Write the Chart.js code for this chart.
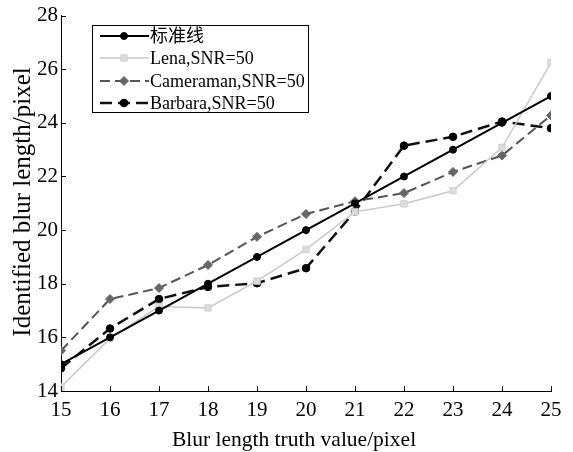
<!DOCTYPE html>
<html>
<head>
<meta charset="utf-8">
<script src="https://cdn.jsdelivr.net/npm/chart.js@4.4.1/dist/chart.umd.min.js"></script>
<style>
  html, body { margin: 0; padding: 0; background: #fff; }
  #wrap { width: 573px; height: 452px; }
</style>
</head>
<body>
<div id="wrap"><canvas id="chart" width="573" height="452"></canvas></div>
<script>
// данные с графика
const truthValues = [15, 16, 17, 18, 19, 20, 21, 22, 23, 24, 25];
const standardLine = [15, 16, 17, 18, 19, 20, 21, 22, 23, 24, 25];
const lenaValues = [14.15, 15.96, 17.15, 17.1, 18.1, 19.28, 20.68, 20.98, 21.47, 23.08, 26.25];
const cameramanValues = [15.5, 17.43, 17.84, 18.7, 19.75, 20.6, 21.08, 21.38, 22.17, 22.78, 24.28];
const barbaraValues = [14.85, 16.33, 17.43, 17.88, 18.02, 18.58, 20.7, 23.15, 23.48, 24.05, 23.8];
const seriesNames = ['标准线', 'Lena,SNR=50', 'Cameraman,SNR=50', 'Barbara,SNR=50'];
const yTicks = [14, 16, 18, 20, 22, 24, 26, 28];
const xTitle = 'Blur length truth value/pixel';
const yTitle = 'Identified blur length/pixel';

const serif = '"Liberation Serif", "Times New Roman", "Noto Sans CJK SC", serif';

function toPoints(values) {
    return truthValues.map((x, i) => ({ x: x, y: values[i] }));
}

// рамка легенды внутри графика
const legendBox = {
    id: 'legendBox',
    afterDraw(chart) {
        const ctx = chart.ctx;
        const x0 = 92, y0 = 25, w = 216, h = 87, rowH = 22.3;
        ctx.save();
        ctx.fillStyle = '#fff';
        ctx.fillRect(x0, y0, w, h);
        chart.data.datasets.forEach((ds, i) => {
            const cy = Math.round(y0 + 11 + i * rowH);
            ctx.beginPath();
            ctx.setLineDash(ds.borderDash || []);
            ctx.strokeStyle = ds.borderColor;
            ctx.lineWidth = ds.borderWidth;
            ctx.moveTo(x0 + 8, cy);
            ctx.lineTo(x0 + 57, cy);
            ctx.stroke();
            ctx.setLineDash([]);
            ctx.fillStyle = ds.pointBackgroundColor;
            ctx.strokeStyle = ds.pointBorderColor;
            ctx.lineWidth = 1;
            Chart.helpers.drawPoint(ctx, {
                pointStyle: ds.pointStyle,
                radius: ds.pointRadius,
                borderWidth: 1
            }, x0 + 32, cy);
            ctx.fillStyle = '#000';
            ctx.font = '18px ' + serif;
            ctx.textBaseline = 'middle';
            ctx.textAlign = 'left';
            ctx.fillText(ds.label, x0 + 58, cy + 1);
        });
        ctx.strokeStyle = '#000';
        ctx.lineWidth = 1;
        ctx.strokeRect(x0 + 0.5, y0 + 0.5, w, h);
        ctx.restore();
    }
};

// засечки внутрь и подписи осей
const innerTicks = {
    id: 'innerTicks',
    afterDraw(chart) {
        const ctx = chart.ctx;
        const xs = chart.scales.x, ys = chart.scales.y;
        const area = chart.chartArea;
        ctx.save();
        ctx.strokeStyle = '#000';
        ctx.lineWidth = 1;
        ctx.beginPath();
        truthValues.forEach(v => {
            const px = Math.round(xs.getPixelForValue(v)) + 0.5;
            ctx.moveTo(px, area.bottom);
            ctx.lineTo(px, area.bottom - 5);
        });
        yTicks.forEach(v => {
            const py = Math.round(ys.getPixelForValue(v)) + 0.5;
            ctx.moveTo(area.left, py);
            ctx.lineTo(area.left + 5, py);
        });
        ctx.stroke();

        ctx.fillStyle = '#000';
        ctx.textAlign = 'center';
        ctx.textBaseline = 'middle';
        ctx.font = '21.5px ' + serif;
        ctx.fillText(xTitle, 294, 440);
        ctx.font = '25px ' + serif;
        ctx.translate(23, 202);
        ctx.rotate(-Math.PI / 2);
        ctx.fillText(yTitle, 0, 0);
        ctx.restore();
    }
};

const ctx = document.getElementById('chart').getContext('2d');
const chart = new Chart(ctx, {
    type: 'line',
    data: {
        datasets: [{
            label: seriesNames[0],
            data: toPoints(standardLine),
            borderColor: '#000',
            borderWidth: 2,
            pointStyle: 'circle',
            pointRadius: 3.5,
            pointBorderWidth: 1,
            pointBackgroundColor: '#000',
            pointBorderColor: '#000'
        }, {
            label: seriesNames[1],
            data: toPoints(lenaValues),
            borderColor: '#c8c8c8',
            borderWidth: 1.5,
            pointStyle: 'rect',
            pointRadius: 4.5,
            pointBorderWidth: 1,
            pointBackgroundColor: '#dcdcdc',
            pointBorderColor: '#d0d0d0'
        }, {
            label: seriesNames[2],
            data: toPoints(cameramanValues),
            borderColor: '#555',
            borderWidth: 2,
            borderDash: [10, 5],
            pointStyle: 'rectRot',
            pointRadius: 4.5,
            pointBorderWidth: 1,
            pointBackgroundColor: '#666',
            pointBorderColor: '#666'
        }, {
            label: seriesNames[3],
            data: toPoints(barbaraValues),
            borderColor: '#111',
            borderWidth: 2.5,
            borderDash: [12, 6],
            pointStyle: 'circle',
            pointRadius: 3.8,
            pointBorderWidth: 1,
            pointBackgroundColor: '#000',
            pointBorderColor: '#000'
        }]
    },
    options: {
        responsive: false,
        animation: false,
        layout: { padding: { top: 12, right: 22, left: 0, bottom: 0 } },
        plugins: {
            legend: { display: false },
            tooltip: { enabled: false }
        },
        scales: {
            x: {
                type: 'linear',
                min: 15,
                max: 25,
                afterFit(scale) { scale.height = 61; },
                grid: { display: false, drawTicks: false },
                border: { display: true, color: '#000', width: 1 },
                ticks: {
                    stepSize: 1,
                    padding: 7,
                    color: '#000',
                    font: { family: serif, size: 21 }
                }
            },
            y: {
                min: 14,
                max: 28,
                afterFit(scale) { scale.width = 61; },
                grid: { display: false, drawTicks: false },
                border: { display: true, color: '#000', width: 1 },
                ticks: {
                    stepSize: 2,
                    padding: 3,
                    color: '#000',
                    font: { family: serif, size: 21 }
                }
            }
        }
    },
    plugins: [innerTicks, legendBox]
});
</script>
</body>
</html>
